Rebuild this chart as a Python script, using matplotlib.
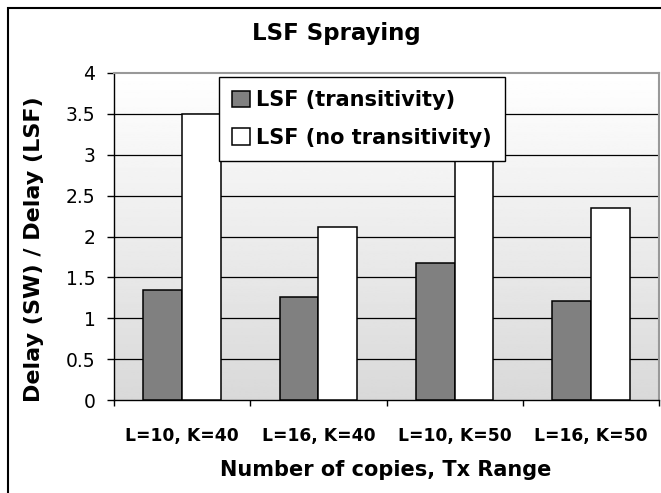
import numpy as np
import matplotlib
matplotlib.use("Agg")
import matplotlib.pyplot as plt
from matplotlib.patches import Rectangle

plt.rcParams['font.family'] = ['DejaVu Sans']

# values
categories = ['L=10, K=40', 'L=16, K=40', 'L=10, K=50', 'L=16, K=50']
transitivity = [1.35, 1.26, 1.68, 1.21]
no_transitivity = [3.50, 2.12, 3.20, 2.35]
y_ticks = [0, 0.5, 1, 1.5, 2, 2.5, 3, 3.5, 4]
y_labels = ['0', '0.5', '1', '1.5', '2', '2.5', '3', '3.5', '4']

W, H = 661, 493
fig = plt.figure(figsize=(W/100, H/100), dpi=100)
# plot area: x 114..659, y 73..400 (pixels from top)
ax = fig.add_axes([114/W, 1 - 400/H, 545/W, 327/H])

# gradient background of the plot area, white at top to light grey at bottom
grad = np.linspace(0.85, 1.0, 256).reshape(-1, 1)
ax.imshow(grad, cmap='gray', vmin=0, vmax=1, aspect='auto', origin='lower',
          extent=[0, 1, 0, 1], transform=ax.transAxes, zorder=0)

x = np.arange(len(categories))
w = 0.285
ax.bar(x - w/2, transitivity, w, color='#808080', edgecolor='black',
       linewidth=1.1, label='LSF (transitivity)', zorder=3)
ax.bar(x + w/2, no_transitivity, w, color='white', edgecolor='black',
       linewidth=1.1, label='LSF (no transitivity)', zorder=3)

ax.set_xlim(-0.5, len(categories) - 0.5)
ax.set_ylim(0, 4)
ax.set_yticks(y_ticks)
ax.set_yticklabels(y_labels, fontsize=13.5)
for yv in y_ticks[1:-1]:
    ax.axhline(yv, color='black', linewidth=0.9, zorder=1)

# category labels between ticks at group boundaries
ax.set_xticks(np.arange(len(categories) + 1) - 0.5)
ax.set_xticklabels([])
ax.set_xticks(x, minor=True)
ax.set_xticklabels(categories, minor=True, fontsize=12.3, fontweight='bold')
ax.tick_params(axis='x', which='minor', length=0, pad=19.6)
ax.tick_params(axis='x', which='major', length=4.5, width=1, direction='out')
ax.tick_params(axis='y', length=5, width=1, direction='out', pad=8.4)

for side in ['top', 'right']:
    ax.spines[side].set_color('#999999')
    ax.spines[side].set_linewidth(1.5)
for side in ['left', 'bottom']:
    ax.spines[side].set_color('black')
    ax.spines[side].set_linewidth(1.0)

fig.text(336/W, 1 - 40/H, 'LSF Spraying', fontsize=16.5, fontweight='bold',
         ha='center', va='baseline')
fig.text(386/W, 1 - 476/H, 'Number of copies, Tx Range', fontsize=15,
         fontweight='bold', ha='center', va='baseline')
fig.text(34/W, 1 - 249/H, 'Delay (SW) / Delay (LSF)', fontsize=16,
         fontweight='bold', rotation=90, ha='center', va='center')

leg = ax.legend(loc='upper left', bbox_to_anchor=(105/545, 323/327),
                prop={'weight': 'bold', 'size': 15},
                frameon=True, fancybox=False, shadow=False,
                handlelength=0.86, handleheight=0.82, handletextpad=0.3,
                borderpad=0.62, labelspacing=0.85, borderaxespad=0)
leg.get_frame().set_edgecolor('black')
leg.get_frame().set_linewidth(1.0)
leg.get_frame().set_alpha(1)
leg.set_zorder(5)

# outer chart border
fig.patches.append(Rectangle((8/W, -0.05), 1.0, 1 - 8/H + 0.05,
                             transform=fig.transFigure, fill=False,
                             edgecolor='black', linewidth=1.5, clip_on=False))

fig.savefig('out.png', dpi=100)
